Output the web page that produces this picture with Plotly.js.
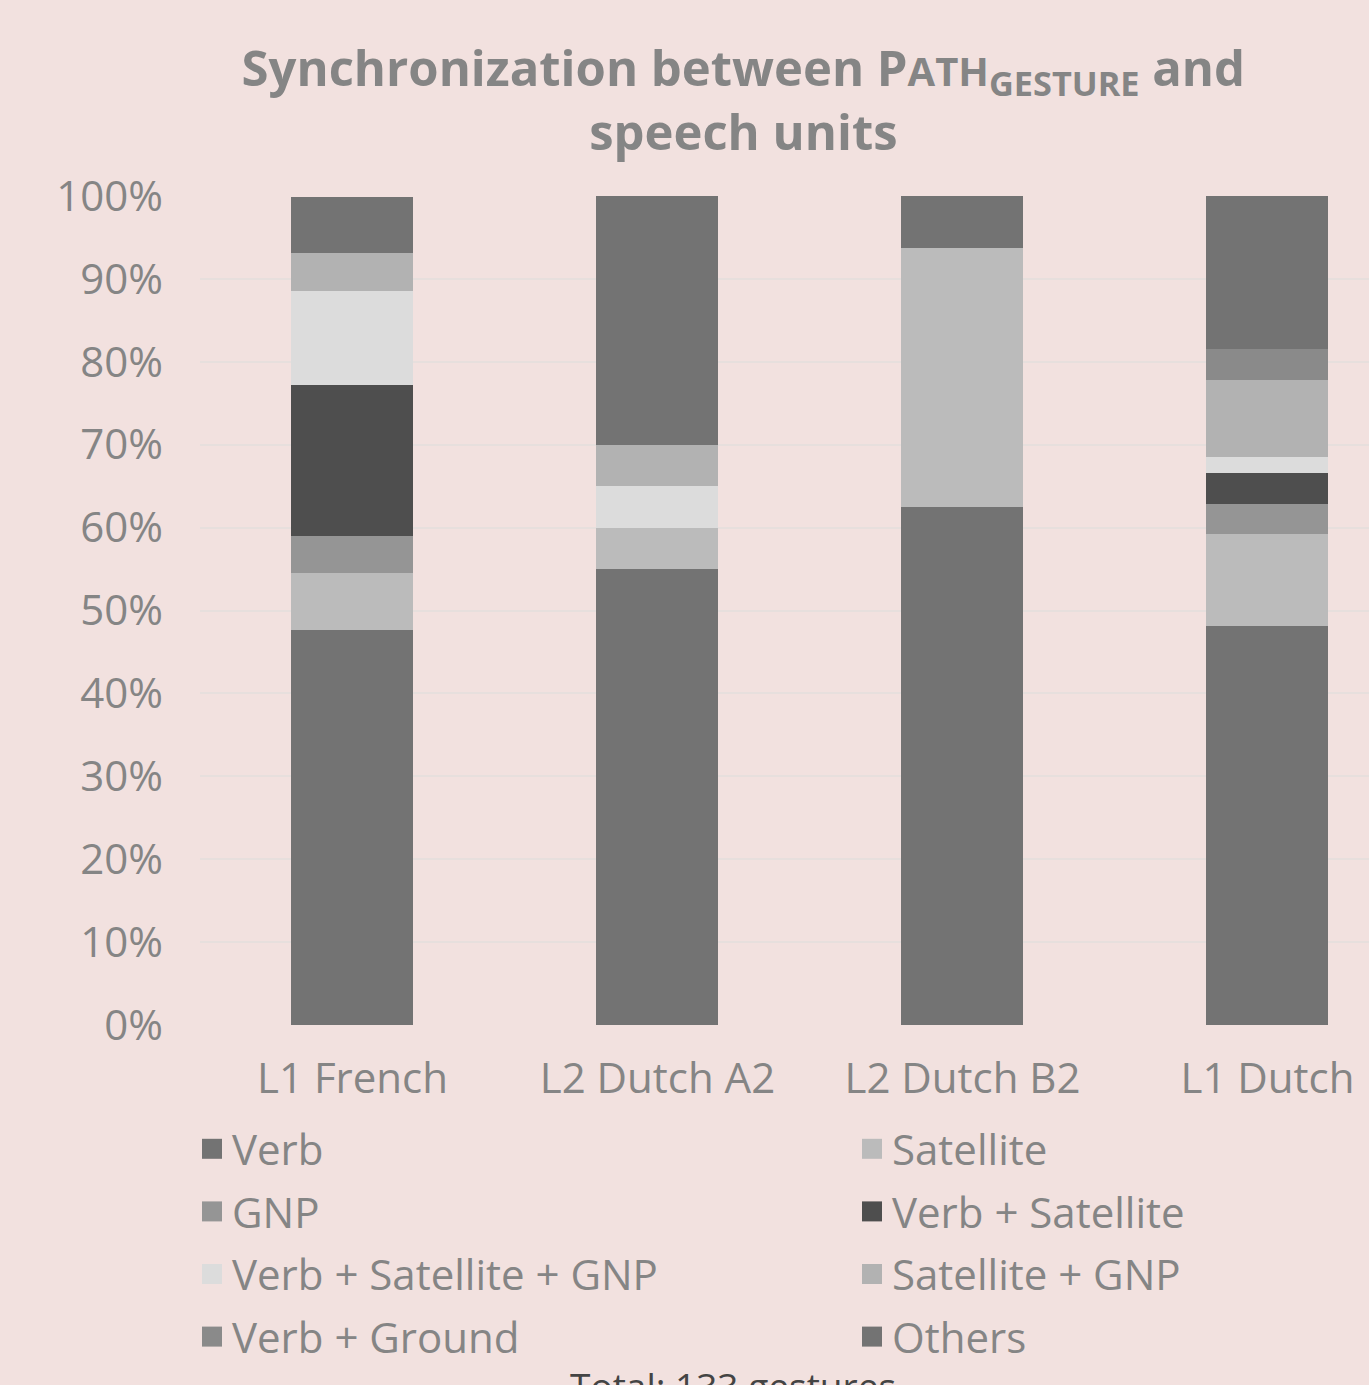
<!DOCTYPE html>
<html>
<head>
<meta charset="utf-8">
<script src="https://cdn.plot.ly/plotly-3.0.1.min.js"></script>
<style>html,body{margin:0;padding:0;background:#f2e1df;}</style>
</head>
<body>
<div id="chart" style="width:1369px;height:1385px;"></div>
<script>
const categories = ["L1 French", "L2 Dutch A2", "L2 Dutch B2", "L1 Dutch"];
const seriesNames = ["Verb", "Satellite", "GNP", "Verb + Satellite", "Verb + Satellite + GNP", "Satellite + GNP", "Verb + Ground", "Others"];
const verb = [47.7, 55.0, 62.5, 48.1];
const satellite = [6.8, 5.0, 31.25, 11.1];
const gnp = [4.5, 0, 0, 3.7];
const verbSatellite = [18.2, 0, 0, 3.7];
const verbSatelliteGnp = [11.4, 5.0, 0, 1.9];
const satelliteGnp = [4.5, 5.0, 0, 9.3];
const verbGround = [0, 0, 0, 3.7];
const others = [6.8, 30.0, 6.25, 18.5];
const seriesColors = ["#737373", "#bbbbbb", "#959595", "#4e4e4e", "#dcdcdc", "#b2b2b2", "#8a8a8a", "#737373"];

const seriesValues = [verb, satellite, gnp, verbSatellite, verbSatelliteGnp, satelliteGnp, verbGround, others];
const FONT = "Open Sans, Noto Sans, sans-serif";
// legend laid out in two columns, row-major order as in the reference
const traces = seriesNames.map((name, i) => ({
  type: "bar",
  name: name,
  x: categories,
  y: seriesValues[i],
  legend: i % 2 === 0 ? "legend" : "legend2",
  legendgroup: "g" + i,
  marker: {color: seriesColors[i], line: {width: 0}},
  hoverinfo: "skip"
}));

const W = 1369, H = 1385;
const legendCommon = {
  orientation: "v",
  xref: "container", yref: "container",
  y: 1 - 1115/H, yanchor: "top",
  xanchor: "left",
  traceorder: "grouped",
  tracegroupgap: 5,
  font: {size: 42, color: "#858585", family: FONT},
  bgcolor: "rgba(0,0,0,0)",
  borderwidth: 0,
  itemclick: false, itemdoubleclick: false,
  itemwidth: 30
};
const layout = {
  width: W, height: H,
  paper_bgcolor: "#f2e1df",
  plot_bgcolor: "#f2e1df",
  barmode: "stack",
  bargap: 0.6,
  margin: {l: 200, r: 0, t: 196, b: 360, pad: 0, autoexpand: false},
  font: {family: FONT, color: "#858585", size: 42},
  title: {
    text: "<b>Synchronization between P<span style='font-size:40px'>ATH</span><sub>GESTURE</sub> and<br>speech units</b>",
    font: {family: FONT, size: 49, color: "#858585"},
    x: 0.543, xanchor: "center",
    yref: "container", y: 1 - 86/H, yanchor: "top"
  },
  xaxis: {
    range: [-0.5, 3.333],
    showgrid: false, zeroline: false, showline: false,
    ticks: "", ticklabelstandoff: 25,
    tickfont: {size: 42, color: "#858585"},
    fixedrange: true
  },
  yaxis: {
    range: [0, 100],
    dtick: 10,
    ticksuffix: "%",
    showgrid: true, gridcolor: "#e7dfdd", gridwidth: 2,
    zeroline: false, showline: false,
    ticks: "", ticklabelstandoff: 36,
    tickfont: {size: 42, color: "#858585"},
    fixedrange: true
  },
  showlegend: true,
  legend: Object.assign({}, legendCommon, {x: 192/W}),
  legend2: Object.assign({}, legendCommon, {x: 852/W}),
  annotations: [{
    text: "Total: 133 gestures",
    xref: "paper", yref: "paper",
    x: (733 - 200)/(W - 200), y: -(1358 - 1025)/(1025 - 196),
    xanchor: "center", yanchor: "top",
    showarrow: false,
    font: {size: 37, color: "#444444", family: FONT}
  }]
};

Plotly.newPlot("chart", traces, layout, {staticPlot: true, displayModeBar: false}).then(gd => {
  // enlarge the legend swatches to the reference's square size
  gd.querySelectorAll(".legendpoints path").forEach(p => {
    p.setAttribute("d", "M10,10H-10V-10H10Z");
  });
});
</script>
</body>
</html>
